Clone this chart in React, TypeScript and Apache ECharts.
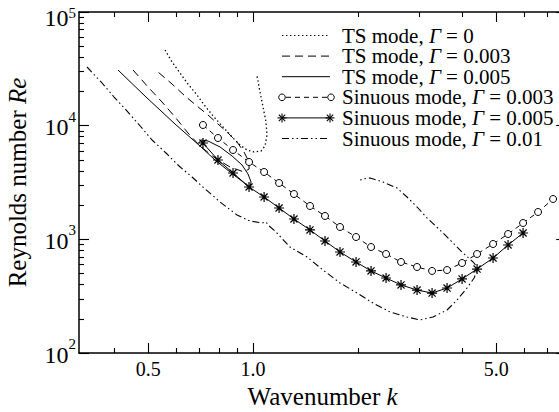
import React, { useEffect, useRef } from 'react';
import * as echarts from 'echarts';

// ---- axis ranges & ticks ----
const xMin = 0.3162;
const xMax = 7.94;
const yMin = 100;
const yMax = 100000;
const xMajorTicks = [0.5, 1.0, 5.0];
const xMinorTicks = [0.4, 0.6, 0.7, 0.8, 0.9, 2, 3, 4, 6, 7];
const yMajorTicks = [100, 1000, 10000, 100000];
const yMinorTicks = [
  200, 300, 400, 500, 600, 700, 800, 900,
  2000, 3000, 4000, 5000, 6000, 7000, 8000, 9000,
  20000, 30000, 40000, 50000, 60000, 70000, 80000, 90000,
];

// ---- series data (k, Re) ----
const tsG0K = [0.5586, 0.5852, 0.6169, 0.6504, 0.6902, 0.728, 0.7724, 0.8199, 0.8704, 0.9175, 0.9612, 1.0067, 1.0544, 1.0826, 1.0969, 1.0898, 1.0683, 1.0474, 1.0268];
const tsG0Re = [46320, 36320, 29060, 23260, 18610, 14890, 11920, 9734, 7949, 6760, 6109, 5867, 5987, 6624, 8277, 10770, 14600, 19780, 27350];

const tsG003K = [0.452, 0.4993, 0.5476, 0.5969, 0.6504, 0.704, 0.7777, 0.8587, 0.9421, 0.974, 0.974, 0.9421, 0.8995, 0.8475, 0.793, 0.7425, 0.6902, 0.6376, 0.5852, 0.5333];
const tsG003Re = [30880, 21890, 16150, 11920, 8619, 6624, 5195, 4329, 3912, 4157, 4790, 5867, 7183, 8619, 10340, 12410, 14890, 18240, 23260, 29660];

const tsG005K = [0.4093, 0.4926, 0.5969, 0.704, 0.7777, 0.8587, 0.9361, 0.9804, 0.987, 0.9674, 0.9298, 0.8704, 0.8039, 0.7425, 0.7087, 0.6995];
const tsG005Re = [30880, 17870, 10340, 6624, 4989, 3912, 3195, 2829, 3195, 3756, 4508, 5411, 6492, 7330, 7480, 7039];

const sinG003K = [0.718, 0.793, 0.876, 0.974, 1.076, 1.188, 1.311, 1.458, 1.61, 1.778, 1.977, 2.183, 2.411, 2.662, 2.96, 3.269, 3.61, 3.987, 4.403, 4.894, 5.405, 5.969, 6.592, 7.28];
const sinG003Re = [10140, 7790, 6109, 4790, 3912, 3131, 2505, 1965, 1605, 1284, 1048, 856, 743, 632, 571, 527, 537, 619, 743, 910, 1114, 1392, 1740, 2264];

const sinG005K = [0.718, 0.793, 0.876, 0.974, 1.076, 1.188, 1.311, 1.458, 1.61, 1.778, 1.977, 2.183, 2.411, 2.662, 2.96, 3.269, 3.61, 3.987, 4.403, 4.894, 5.405, 5.969];
const sinG005Re = [7039, 4989, 3833, 2886, 2358, 1887, 1510, 1209, 967, 774, 632, 527, 457, 397, 358, 337, 373, 448, 548, 685, 892, 1137];

const sinG01K = [0.3334, 0.3683, 0.3987, 0.4316, 0.4767, 0.5127, 0.5623, 0.6129, 0.6679, 0.718, 0.8039, 0.8995, 0.9804, 1.0614, 1.0898, 1.1043, 1.1565, 1.277, 1.4296, 1.5888, 1.778, 1.9903, 2.2122, 2.4754, 2.7695, 3.0193, 3.2896, 3.61, 3.857, 4.12, 4.317, 4.432, 4.288, 4.013, 3.756, 3.516, 3.162, 2.96, 2.7695, 2.593, 2.363, 2.169, 2.057, 2.003];
const sinG01Re = [32820, 23740, 17870, 13740, 9734, 7480, 5749, 4418, 3535, 2886, 2130, 1637, 1450, 1392, 1421, 1337, 1184, 856, 699, 537, 413, 337, 275, 229.6, 207.4, 195.2, 207.4, 238.9, 292.6, 373, 457, 559.6, 632, 758, 928.6, 1137, 1541, 1925, 2358, 2829, 3195, 3464, 3395, 3195];

const legendLabels = [
  'TS mode, {i|Γ} = 0',
  'TS mode, {i|Γ} = 0.003',
  'TS mode, {i|Γ} = 0.005',
  'Sinuous mode, {i|Γ} = 0.003',
  'Sinuous mode, {i|Γ} = 0.005',
  'Sinuous mode, {i|Γ} = 0.01',
];

const FONT = 'Liberation Serif';
const BLACK = '#000';

const DOTTED = [1.4, 2.6];
const DASHED = [8, 5];
const CIRCLE_DASH = [5, 4];
const DASH_DOT_DOT = [7, 3, 1.5, 3, 1.5, 3];

function asteriskPath(): string {
  const L = 5;
  const w = 0.6;
  let d = '';
  for (const a of [0, 45, 90, 135]) {
    const r = (a * Math.PI) / 180;
    const c = Math.cos(r);
    const s = Math.sin(r);
    const pts = [[-L, -w], [L, -w], [L, w], [-L, w]].map(([u, v]) => [5 + u * c - v * s, 5 + u * s + v * c]);
    d += 'M' + pts.map((p) => p[0].toFixed(3) + ' ' + p[1].toFixed(3)).join('L') + 'Z';
  }
  return 'path://' + d;
}

const zip = (k: number[], re: number[]) => k.map((v, i) => [v, re[i]]);
const lg = (arr: number[]) => arr.map((v) => Math.log10(v));

function tickAxis(dim: 'x' | 'y', position: string, ticks: number[], len: number, line: boolean, label: any, extra: any = {}) {
  const min = dim === 'x' ? Math.log10(xMin) : Math.log10(yMin);
  const max = dim === 'x' ? Math.log10(xMax) : Math.log10(yMax);
  return {
    type: 'value',
    position,
    min,
    max,
    axisLine: { show: line, onZero: false, lineStyle: { color: BLACK, width: 1.5 } },
    axisTick: { show: true, inside: true, length: len, customValues: lg(ticks), lineStyle: { color: BLACK, width: 1.1 } },
    axisLabel: label,
    splitLine: { show: false },
    minorTick: { show: false },
    ...extra,
  };
}

function buildOption(): any {
  const xLabel = {
    show: true,
    customValues: lg(xMajorTicks),
    formatter: (v: number) => `{t|${Math.pow(10, v).toFixed(1)}}`,
    margin: 6,
    color: BLACK,
    fontFamily: FONT,
    fontSize: 20,
    rich: { t: { fontSize: 20, fontFamily: FONT, color: BLACK } },
  };
  const yLabel = {
    show: true,
    customValues: lg(yMajorTicks),
    formatter: (v: number) => {
      const n = Math.round(v);
      return n === 5 ? `{bt|10}{et|${n}}` : `{b|10}{e|${n}}`;
    },
    margin: 3,
    color: BLACK,
    fontFamily: FONT,
    rich: {
      b: { fontSize: 24, fontFamily: FONT, color: BLACK, padding: [6, 0, 3, 0] },
      e: { fontSize: 15, fontFamily: FONT, color: BLACK, verticalAlign: 'top' },
      bt: { fontSize: 24, fontFamily: FONT, color: BLACK, padding: [14, 0, 3, 0] },
      et: { fontSize: 15, fontFamily: FONT, color: BLACK, verticalAlign: 'top', padding: [14, 0, 0, 0] },
    },
  };
  const noLabel = { show: false };

  const legendGraphics: any[] = [];
  legendLabels.forEach((txt, i) => {
    const y = 35.5 + 20.6 * i;
    const x1 = 282;
    const x2 = 330;
    if (i === 0) legendGraphics.push({ type: 'line', shape: { x1, y1: y, x2, y2: y }, style: { stroke: BLACK, lineWidth: 1.2, lineDash: DOTTED } });
    if (i === 1) legendGraphics.push({ type: 'line', shape: { x1, y1: y, x2, y2: y }, style: { stroke: BLACK, lineWidth: 1, lineDash: DASHED } });
    if (i === 2) legendGraphics.push({ type: 'line', shape: { x1, y1: y, x2, y2: y }, style: { stroke: BLACK, lineWidth: 1 } });
    if (i === 3) {
      legendGraphics.push({ type: 'line', shape: { x1: x1 + 4, y1: y, x2: x2 - 3, y2: y }, style: { stroke: BLACK, lineWidth: 1, lineDash: CIRCLE_DASH } });
      legendGraphics.push({ type: 'circle', shape: { cx: x1, cy: y, r: 3.3 }, style: { fill: '#fff', stroke: BLACK, lineWidth: 1 } });
      legendGraphics.push({ type: 'circle', shape: { cx: x2 + 1, cy: y, r: 3.3 }, style: { fill: '#fff', stroke: BLACK, lineWidth: 1 } });
    }
    if (i === 4) {
      legendGraphics.push({ type: 'line', shape: { x1, y1: y, x2, y2: y }, style: { stroke: BLACK, lineWidth: 1 } });
      [x1, x2].forEach((cx) => {
        [0, 45, 90, 135].forEach((a) => {
          const r = (a * Math.PI) / 180;
          const dx = 4.5 * Math.cos(r);
          const dy = 4.5 * Math.sin(r);
          legendGraphics.push({ type: 'line', shape: { x1: cx - dx, y1: y - dy, x2: cx + dx, y2: y + dy }, style: { stroke: BLACK, lineWidth: 1.1 } });
        });
      });
    }
    if (i === 5) legendGraphics.push({ type: 'line', shape: { x1, y1: y, x2, y2: y }, style: { stroke: BLACK, lineWidth: 1, lineDash: DASH_DOT_DOT } });
    const parts = txt.split(/(\{i\|Γ\})/);
    const richText = parts.map((p) => (p === '{i|Γ}' ? p : p ? `{n|${p}}` : '')).join('');
    legendGraphics.push({
      type: 'text',
      x: 342,
      y,
      style: {
        text: richText,
        fontSize: 21,
        fontFamily: FONT,
        fill: BLACK,
        align: 'left',
        verticalAlign: 'middle',
        rich: {
          n: { fontSize: 21, lineHeight: 19, fontFamily: FONT, fill: BLACK },
          i: { fontStyle: 'italic', fontSize: 21, lineHeight: 19, fontFamily: FONT, fill: BLACK },
        },
      },
    });
  });

  const baseLine = (name: string, k: number[], re: number[], dash: any, width = 1) => ({
    type: 'line',
    name,
    xAxisIndex: 0,
    yAxisIndex: 0,
    data: zip(k, re),
    symbol: 'none',
    silent: true,
    lineStyle: { color: BLACK, width, type: dash },
  });

  const nameStyle = {
    fontSize: 25,
    fontFamily: FONT,
    color: BLACK,
    rich: {
      n: { fontSize: 25, fontFamily: FONT, color: BLACK },
      i: { fontStyle: 'italic', fontSize: 25, fontFamily: FONT, color: BLACK },
    },
  };

  return {
    animation: false,
    backgroundColor: '#fff',
    textStyle: { fontFamily: FONT },
    grid: { left: 79, top: 12, width: 487.2, height: 341, containLabel: false, outerBoundsMode: 'none' },
    xAxis: [
      { type: 'log', logBase: 10, min: xMin, max: xMax, show: false, position: 'bottom' },
      tickAxis('x', 'bottom', xMajorTicks, 10, true, xLabel, {
        name: '{n|Wavenumber }{i|k}',
        nameLocation: 'middle',
        nameGap: 31,
        nameTextStyle: nameStyle,
      }),
      tickAxis('x', 'bottom', xMinorTicks, 5, false, noLabel),
      tickAxis('x', 'top', xMajorTicks, 10, true, noLabel),
      tickAxis('x', 'top', xMinorTicks, 5, false, noLabel),
    ],
    yAxis: [
      { type: 'log', logBase: 10, min: yMin, max: yMax, show: false, position: 'left' },
      tickAxis('y', 'left', yMajorTicks, 10, true, yLabel, {
        name: '{n|Reynolds number }{i|Re}',
        nameLocation: 'middle',
        nameGap: 49,
        nameTextStyle: nameStyle,
      }),
      tickAxis('y', 'left', yMinorTicks, 5, false, noLabel),
      tickAxis('y', 'right', yMajorTicks, 10, true, noLabel),
      tickAxis('y', 'right', yMinorTicks, 5, false, noLabel),
    ],
    graphic: legendGraphics,
    series: [
      baseLine('TS mode, Γ = 0', tsG0K, tsG0Re, DOTTED, 1.3),
      baseLine('TS mode, Γ = 0.003', tsG003K, tsG003Re, DASHED),
      baseLine('TS mode, Γ = 0.005', tsG005K, tsG005Re, 'solid'),
      baseLine('Sinuous mode, Γ = 0.01', sinG01K, sinG01Re, DASH_DOT_DOT, 1.1),
      {
        type: 'line',
        name: 'Sinuous mode, Γ = 0.005',
        xAxisIndex: 0,
        yAxisIndex: 0,
        data: zip(sinG005K, sinG005Re),
        symbol: asteriskPath(),
        symbolSize: 10,
        showSymbol: true,
        showAllSymbol: true,
        silent: true,
        itemStyle: { color: BLACK },
        lineStyle: { color: BLACK, width: 1, type: 'solid' },
        z: 3,
      },
      {
        type: 'line',
        name: 'Sinuous mode, Γ = 0.003',
        xAxisIndex: 0,
        yAxisIndex: 0,
        data: zip(sinG003K, sinG003Re),
        symbol: 'circle',
        symbolSize: 7,
        showSymbol: true,
        showAllSymbol: true,
        silent: true,
        itemStyle: { color: '#fff', borderColor: BLACK, borderWidth: 1 },
        lineStyle: { color: BLACK, width: 1, type: CIRCLE_DASH },
        z: 4,
      },
    ],
  };
}

export default function App() {
  const ref = useRef<HTMLDivElement>(null);
  useEffect(() => {
    if (!ref.current) return;
    const chart = echarts.init(ref.current, null, { renderer: 'svg' });
    chart.setOption(buildOption());
    return () => chart.dispose();
  }, []);
  return (
    <div style={{ position: 'fixed', left: 0, top: 0, width: 559, height: 412, overflow: 'hidden', background: '#fff' }}>
      <div ref={ref} style={{ width: 580, height: 412 }} />
    </div>
  );
}
